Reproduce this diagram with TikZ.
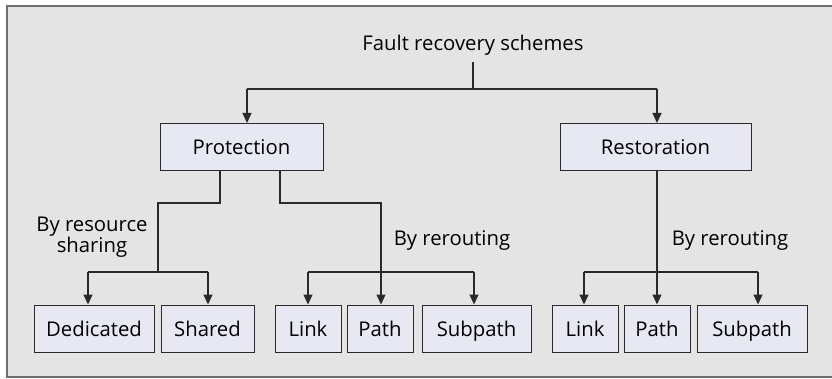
\documentclass[tikz,border=0pt]{standalone}
\usepackage{fontspec}
\setmainfont{Open Sans}
\usetikzlibrary{arrows.meta}
\definecolor{bgcol}{HTML}{E4E4E4}
\definecolor{boxcol}{HTML}{E8E8F3}
\definecolor{linecol}{HTML}{2A2A2A}
\definecolor{framecol}{HTML}{6E6E6E}
\begin{document}
\begin{tikzpicture}[x=1pt,y=-1pt,
  every node/.style={font=\fontsize{20.3}{20}\selectfont, text=black},
  boxnode/.style={draw=linecol, line width=1pt, fill=boxcol, inner sep=0pt, minimum height=47pt, text height=15pt, text depth=0pt},
  conn/.style={draw=linecol, line width=1.2pt},
  arr/.style={conn, -{Triangle[length=10pt,width=9pt]}}]
\useasboundingbox (0,0) rectangle (832,379);
\draw[framecol, line width=1.5pt, fill=bgcol] (7,6) rectangle (840,377);

\node (title) at (473,45) {Fault recovery schemes};
\node[boxnode, minimum width=163pt] (prot) at (241.5,147) {Protection};
\node[boxnode, minimum width=191pt] (rest) at (655.5,147) {Restoration};

\node[boxnode, minimum width=120pt] (ded) at (94,328.5) {Dedicated};
\node[boxnode, minimum width=93pt] (sha) at (207.5,328.5) {Shared};
\node[boxnode, minimum width=66pt] (lnka) at (308,328.5) {Link};
\node[boxnode, minimum width=66pt] (ptha) at (380,328.5) {Path};
\node[boxnode, minimum width=109pt] (suba) at (476.5,328.5) {Subpath};
\node[boxnode, minimum width=66pt] (lnkb) at (585,328.5) {Link};
\node[boxnode, minimum width=66pt] (pthb) at (657,328.5) {Path};
\node[boxnode, minimum width=110pt] (subb) at (752,328.5) {Subpath};

\node[align=center] (lres) at (92,237) {By resource\\sharing};
\node (lrra) at (452,240) {By rerouting};
\node (lrrb) at (730,240) {By rerouting};

% top level
\coordinate (t0) at (473,62);
\coordinate (j0) at (473,89);
\coordinate (jl) at (247,89);
\coordinate (jr) at (657,89);
\draw[conn] (t0) -- (j0);
\draw[conn] (jl) -- (jr);
\draw[arr] (jl) -- (jl |- prot.north);
\draw[arr] (jr) -- (jr |- rest.north);

% protection: resource sharing
\coordinate (pa) at (220,203);
\coordinate (pb) at (158,272);
\coordinate (cd) at (88,272);
\coordinate (cs) at (208,272);
\draw[conn] (pa |- prot.south) -- (pa) -| (pb);
\draw[conn] (cd) -- (cs);
\draw[arr] (cd) -- (cd |- ded.north);
\draw[arr] (cs) -- (cs |- sha.north);

% protection: rerouting
\coordinate (pc) at (280,203);
\coordinate (cp) at (381,272);
\coordinate (cl) at (308,272);
\coordinate (cu) at (474,272);
\draw[conn] (pc |- prot.south) -- (pc) -| (cp);
\draw[arr] (cp) -- (cp |- ptha.north);
\draw[conn] (cl) -- (cu);
\draw[arr] (cl) -- (cl |- lnka.north);
\draw[arr] (cu) -- (cu |- suba.north);

% restoration: rerouting
\coordinate (rp) at (657,272);
\coordinate (rl) at (584,272);
\coordinate (ru) at (758,272);
\draw[arr] (rp |- rest.south) -- (rp |- pthb.north);
\draw[conn] (rl) -- (ru);
\draw[arr] (rl) -- (rl |- lnkb.north);
\draw[arr] (ru) -- (ru |- subb.north);
\end{tikzpicture}
\end{document}
